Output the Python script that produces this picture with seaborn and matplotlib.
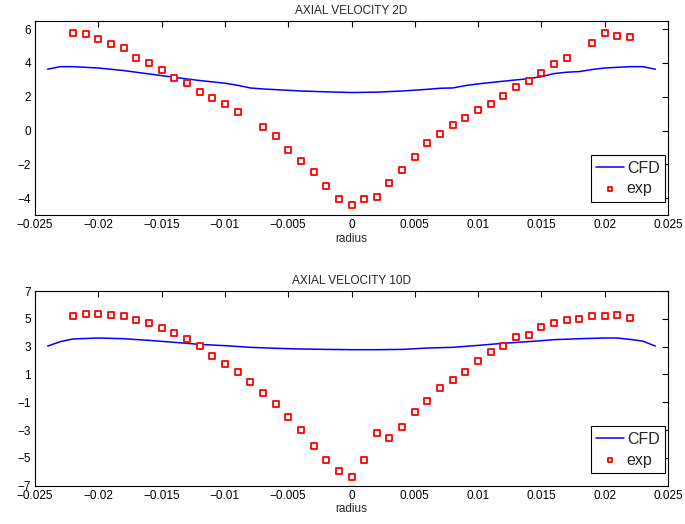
import numpy as np
import pandas as pd
import matplotlib
matplotlib.use("Agg")
import matplotlib.pyplot as plt
import seaborn as sns

# ---------------- data ----------------
# Top panel (2D): experimental points
exp2d_r = [-0.022, -0.021, -0.020, -0.019, -0.018, -0.017, -0.016, -0.015, -0.014, -0.013,
           -0.012, -0.011, -0.010, -0.009, -0.007, -0.006, -0.005, -0.004, -0.003, -0.002,
           -0.001, 0.000, 0.001, 0.002, 0.003, 0.004, 0.005, 0.006, 0.007, 0.008,
           0.009, 0.010, 0.011, 0.012, 0.013, 0.014, 0.015, 0.016, 0.017, 0.019,
           0.020, 0.021, 0.022]
exp2d_v = [5.75, 5.69, 5.40, 5.10, 4.89, 4.28, 4.02, 3.57, 3.11, 2.80,
           2.27, 1.91, 1.56, 1.12, 0.18, -0.33, -1.14, -1.79, -2.48, -3.27,
           -4.08, -4.39, -4.04, -3.92, -3.11, -2.36, -1.58, -0.71, -0.18, 0.32,
           0.75, 1.24, 1.58, 2.07, 2.56, 2.96, 3.39, 3.92, 4.28, 5.16,
           5.75, 5.58, 5.52]
# Top panel (2D): CFD line
cfd2d_r = [-0.024, -0.023, -0.022, -0.020, -0.018, -0.016, -0.014, -0.012, -0.010, -0.009,
           -0.008, -0.007, -0.006, -0.004, -0.002, 0.000, 0.002, 0.004, 0.006, 0.007,
           0.008, 0.009, 0.010, 0.012, 0.014, 0.015, 0.016, 0.017, 0.018, 0.019,
           0.020, 0.021, 0.022, 0.023, 0.024]
cfd2d_v = [3.63, 3.78, 3.78, 3.70, 3.55, 3.35, 3.15, 2.96, 2.80, 2.68,
           2.52, 2.46, 2.42, 2.34, 2.29, 2.25, 2.27, 2.34, 2.44, 2.50,
           2.52, 2.66, 2.76, 2.92, 3.07, 3.19, 3.37, 3.45, 3.49, 3.61,
           3.70, 3.74, 3.78, 3.78, 3.63]

# Bottom panel (10D): experimental points
exp10d_r = [-0.022, -0.021, -0.020, -0.019, -0.018, -0.017, -0.016, -0.015, -0.014, -0.013,
            -0.012, -0.011, -0.010, -0.009, -0.008, -0.007, -0.006, -0.005, -0.004, -0.003,
            -0.002, -0.001, 0.000, 0.001, 0.002, 0.003, 0.004, 0.005, 0.006, 0.007,
            0.008, 0.009, 0.010, 0.011, 0.012, 0.013, 0.014, 0.015, 0.016, 0.017,
            0.018, 0.019, 0.020, 0.021, 0.022]
exp10d_v = [5.20, 5.35, 5.32, 5.25, 5.18, 4.91, 4.67, 4.34, 3.98, 3.55,
            3.05, 2.35, 1.75, 1.15, 0.43, -0.34, -1.10, -2.09, -3.02, -4.15,
            -5.18, -5.97, -6.35, -5.16, -3.19, -3.55, -2.76, -1.70, -0.89, 0.02,
            0.57, 1.20, 1.97, 2.61, 3.04, 3.69, 3.86, 4.41, 4.72, 4.94,
            5.01, 5.20, 5.23, 5.30, 5.08]
# Bottom panel (10D): CFD line
cfd10d_r = [-0.024, -0.023, -0.022, -0.020, -0.018, -0.016, -0.014, -0.012, -0.010, -0.008,
            -0.006, -0.004, -0.002, 0.000, 0.002, 0.004, 0.006, 0.008, 0.010, 0.012,
            0.014, 0.016, 0.018, 0.020, 0.021, 0.022, 0.023, 0.024]
cfd10d_v = [3.04, 3.36, 3.55, 3.62, 3.57, 3.45, 3.31, 3.16, 3.07, 2.95,
            2.88, 2.83, 2.80, 2.78, 2.78, 2.80, 2.90, 2.95, 3.09, 3.24,
            3.36, 3.50, 3.57, 3.62, 3.62, 3.52, 3.40, 3.04]

x_ticks = [-0.025, -0.02, -0.015, -0.01, -0.005, 0, 0.005, 0.01, 0.015, 0.02, 0.025]
x_ticklabels = ["\u22120.025", "\u22120.02", "\u22120.015", "\u22120.01", "\u22120.005", "0",
                "0.005", "0.01", "0.015", "0.02", "0.025"]
y_ticks_top = [-4, -2, 0, 2, 4, 6]
y_ticklabels_top = ["\u22124", "\u22122", "0", "2", "4", "6"]
y_ticks_bot = [-7, -5, -3, -1, 1, 3, 5, 7]
y_ticklabels_bot = ["\u22127", "\u22125", "\u22123", "\u22121", "1", "3", "5", "7"]

titles = ["AXIAL VELOCITY 2D", "AXIAL VELOCITY 10D"]
xlabel = "radius"
legend_labels = ["CFD", "exp"]

# ---------------- style ----------------
sns.set_style("white")
plt.rcParams["font.family"] = ["Liberation Sans", "DejaVu Sans"]

fig = plt.figure(figsize=(6.85, 5.24), dpi=100)
W, H = 685, 524
ax_top = fig.add_axes([35 / W, 1 - 215 / H, (668 - 35) / W, (215 - 20.7) / H])
ax_bot = fig.add_axes([35 / W, 1 - 485.7 / H, (668 - 35) / W, (485.7 - 291) / H])

panels = [
    (ax_top, exp2d_r, exp2d_v, cfd2d_r, cfd2d_v, (-5, 6.5), y_ticks_top, y_ticklabels_top, titles[0], 0.068),
    (ax_bot, exp10d_r, exp10d_v, cfd10d_r, cfd10d_v, (-7, 7), y_ticks_bot, y_ticklabels_bot, titles[1], 0.064),
]

for ax, er, ev, cr, cv, ylim, yt, ytl, title, leg_y in panels:
    cfd_df = pd.DataFrame({"r": cr, "v": cv})
    exp_df = pd.DataFrame({"r": er, "v": ev})
    sns.lineplot(data=cfd_df, x="r", y="v", ax=ax, color="#0000ff", linewidth=1.1,
                 label=legend_labels[0], sort=False)
    sns.scatterplot(data=exp_df, x="r", y="v", ax=ax, marker="s", s=14,
                    facecolor="white", edgecolor="#ff0000", linewidth=1.3,
                    label=legend_labels[1], zorder=3)
    ax.set_xlim(-0.025, 0.025)
    ax.set_ylim(*ylim)
    ax.set_xticks(x_ticks)
    ax.set_xticklabels(x_ticklabels)
    ax.set_yticks(yt)
    ax.set_yticklabels(ytl)
    ax.tick_params(direction="in", top=True, right=True, length=4, width=0.8,
                   labelsize=8.5, colors="black", pad=3)
    for sp in ax.spines.values():
        sp.set_visible(True)
        sp.set_color("black")
        sp.set_linewidth(0.8)
    ax.set_title(title, fontsize=8.5, pad=5)
    ax.set_xlabel(xlabel, fontsize=8.5, labelpad=1)
    ax.set_ylabel("")
    leg = ax.legend(loc="lower right", bbox_to_anchor=(0.9955, leg_y), fontsize=11.5,
                    frameon=True, fancybox=False, edgecolor="black", framealpha=1,
                    handlelength=1.75, handletextpad=0.15, borderpad=0.35,
                    labelspacing=0.35, borderaxespad=0, markerscale=0.7)
    leg.get_frame().set_linewidth(0.8)

fig.savefig("out.png", dpi=100)
